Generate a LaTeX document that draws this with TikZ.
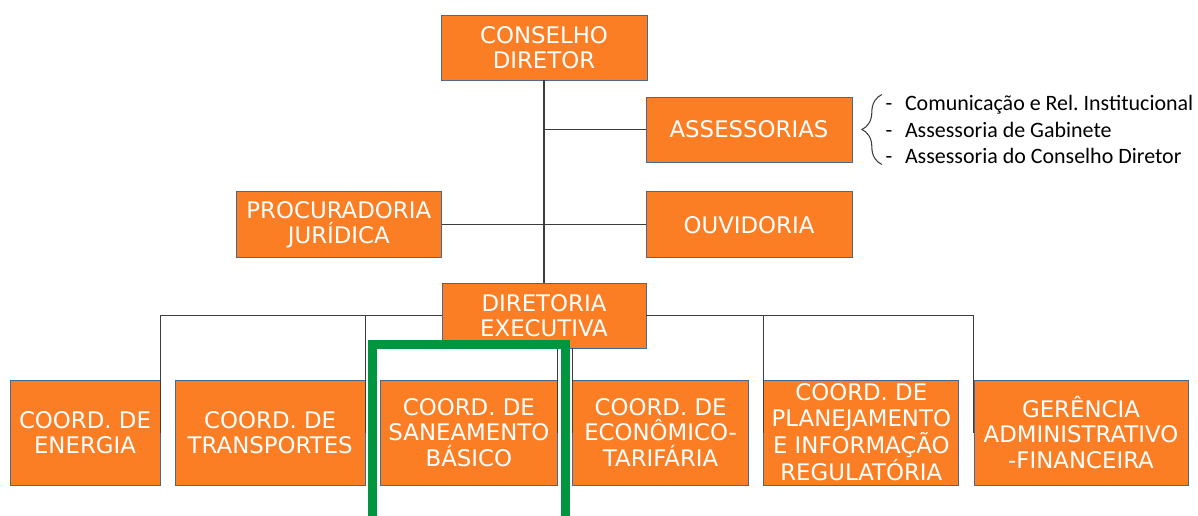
\documentclass[tikz,border=0pt]{standalone}
\usepackage{fontspec}
\setmainfont{DejaVu Sans}
\newfontfamily\listfont{Carlito}
\usetikzlibrary{positioning,fit,decorations.pathreplacing}
\definecolor{boxfill}{RGB}{252,126,36}
\definecolor{boxline}{RGB}{70,105,145}
\definecolor{linkgray}{RGB}{60,60,60}
\definecolor{greenhl}{RGB}{0,150,64}

\begin{document}
\begin{tikzpicture}[orgbox/.style={draw=boxline,fill=boxfill,text=white,align=center,inner sep=1pt,font=\fontsize{13}{14.5}\selectfont,minimum height=1.3cm},lowbox/.style={orgbox,minimum height=2.1cm},conector/.style={draw=linkgray,line width=0.8pt},lista/.style={align=left,inner sep=0pt,font={\listfont\fontsize{12.5}{15.3}\selectfont}},destaque/.style={draw=greenhl,line width=0.18cm}] %
    \useasboundingbox (0,0) rectangle (23.96,-10.3); %
    \node[orgbox,minimum width=4.12cm] (conselho) at (10.88,-0.95) {CONSELHO\\DIRETOR} ; %
    \node[orgbox,minimum width=4.12cm] (assessorias) at (14.98,-2.59) {ASSESSORIAS} ; %
    \node[orgbox,minimum width=4.12cm,minimum height=1.32cm,below=0.58cm of assessorias] (ouvidoria) {OUVIDORIA} ; %
    \node[orgbox,minimum width=4.1cm,minimum height=1.32cm,left=4.08cm of ouvidoria] (procuradoria) {PROCURADORIA\\JURÍDICA};
    \node[orgbox,minimum width=4.08cm] (diretoria) at (10.88,-6.31) {DIRETORIA\\EXECUTIVA};
    \node[lista,right=0.66cm of assessorias] (itens) {\makebox[11pt][l]{-}Comunicação e Rel.\ Institucional\\\makebox[11pt][l]{-}Assessoria de Gabinete\\\makebox[11pt][l]{-}Assessoria do Conselho Diretor};
    \node[lowbox,minimum width=3cm] (energia) at (1.7,-8.65) {COORD. DE\\ENERGIA};
    \node[lowbox,minimum width=3.8cm,right=0.29cm of energia] (transportes) {COORD. DE\\TRANSPORTES};
    \node[lowbox,minimum width=3.54cm,right=0.29cm of transportes] (saneamento) {COORD. DE\\SANEAMENTO\\BÁSICO};
    \node[lowbox,minimum width=3.52cm,right=0.29cm of saneamento] (economico) {COORD. DE\\ECONÔMICO-\\TARIFÁRIA};
    \node[lowbox,minimum width=3.9cm,right=0.29cm of economico] (planejamento) {COORD. DE\\PLANEJAMENTO\\E INFORMAÇÃO\\REGULATÓRIA};
    \node[lowbox,minimum width=4.28cm,right=0.29cm of planejamento] (gerencia) {GERÊNCIA\\ADMINISTRATIVO\\-FINANCEIRA};
    \draw[conector] (conselho) -- (diretoria) ; %
    \draw[conector] (assessorias) -- (assessorias -| conselho);
    \draw[conector] (procuradoria) -- (ouvidoria);
    \draw[conector] (energia.east) |- (diretoria.west);
    \draw[conector] (transportes.east) |- (diretoria.west);
    \draw[conector] (saneamento.east) -- (saneamento.east |- diretoria.south);
    \draw[conector] (economico.west) -- (economico.west |- diretoria.south);
    \draw[conector] (planejamento.west) |- (diretoria.east);
    \draw[conector] (gerencia.west) |- (diretoria.east);
    \draw[linkgray,line width=0.6pt,decorate,decoration={brace,amplitude=0.4cm}] ([xshift=-2pt]itens.south west) -- ([xshift=-2pt]itens.north west);
    \node[destaque,fit=(saneamento),inner xsep=0.15cm,inner ysep=0.7cm] (realce) {};
\end{tikzpicture}
\end{document}
